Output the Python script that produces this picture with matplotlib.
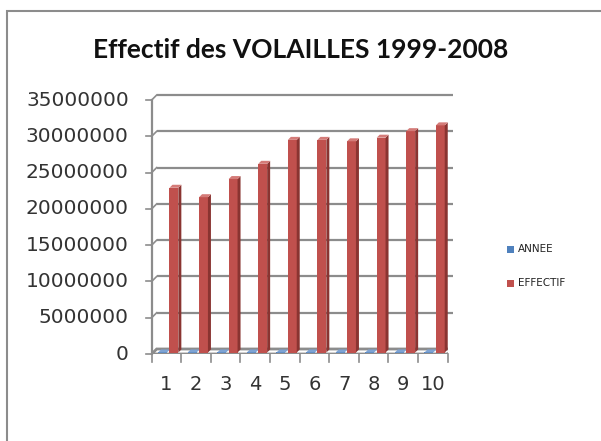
import matplotlib
matplotlib.use("Agg")
import matplotlib.pyplot as plt
from matplotlib.patches import Polygon, Rectangle

# données
annees = [1, 2, 3, 4, 5, 6, 7, 8, 9, 10]
annee = [1999, 2000, 2001, 2002, 2003, 2004, 2005, 2006, 2007, 2008]
effectif = [22700000, 21400000, 23900000, 26000000, 29300000,
            29300000, 29100000, 29600000, 30500000, 31300000]
yticks = [0, 5000000, 10000000, 15000000, 20000000, 25000000, 30000000, 35000000]

W, H = 601, 441
fig = plt.figure(figsize=(W / 100, H / 100), dpi=100)

# cadre gris du graphique
fig.patches.append(Rectangle((7 / W, -0.1), 1.2, 1 - 11 / H + 0.1,
                             transform=fig.transFigure, fill=False,
                             edgecolor="#8c8c8c", linewidth=1.5))

# axe (plan avant)
x0, x1, ytop, ybot = 151.7, 447.7, 100, 354
ax = fig.add_axes([x0 / W, 1 - ybot / H, (x1 - x0) / W, (ybot - ytop) / H])
ax.set_xlim(0.5, 10.5)
ax.set_ylim(0, 35000000)
ax.axis("off")

# pixels -> unités de données
px_x = 10 / (x1 - x0)
px_y = 35000000 / (ybot - ytop)
gris = "#8c8c8c"

# profondeur du mur du fond
dx, dy = 5 * px_x, 5 * px_y

# sol
ax.add_patch(Polygon([(0.5, 0), (10.5, 0), (10.5 + dx, dy), (0.5 + dx, dy)],
                     closed=True, facecolor="white", edgecolor=gris,
                     linewidth=2, zorder=1))

# quadrillage du mur du fond + diagonales sur le mur gauche
for v in yticks[1:]:
    ax.plot([0.5 + dx, 10.5 + dx], [v + dy, v + dy], color=gris, lw=1.6,
            zorder=0, clip_on=False, solid_capstyle="butt")
for v in yticks:
    ax.plot([0.5, 0.5 + dx], [v, v + dy], color=gris, lw=1.2, zorder=2,
            clip_on=False)
    ax.plot([0.5 - 6 * px_x, 0.5], [v, v], color=gris, lw=1.2, zorder=2,
            clip_on=False)
    ax.text(0.5 - 23 * px_x, v, f"{v}", ha="right", va="center",
            fontsize=14.5, color="#333333")

# axe vertical
ax.plot([0.5, 0.5], [0, 35000000], color=gris, lw=1.6, zorder=2,
        clip_on=False)

# graduations de l'axe des catégories
for k in range(11):
    ax.plot([0.5 + k, 0.5 + k], [0, -8 * px_y], color=gris, lw=1.2,
            clip_on=False, zorder=2)
for x in annees:
    ax.text(x, -31 * px_y, str(x), ha="center", va="center", fontsize=14,
            color="#333333")

# barres en pseudo-3D
def barre_3d(xc, h, w, face, cote, dessus, off):
    xl, xr = xc - w / 2, xc + w / 2
    b = off * px_y
    ddx, ddy = 3 * px_x, 3 * px_y
    ax.add_patch(Rectangle((xl, b), w, h, facecolor=face, edgecolor="none",
                           zorder=4))
    ax.add_patch(Polygon([(xr, b), (xr + ddx, b + ddy), (xr + ddx, b + h + ddy),
                          (xr, b + h)], closed=True, facecolor=cote,
                         edgecolor="none", zorder=4))
    ax.add_patch(Polygon([(xl, b + h), (xr, b + h), (xr + ddx, b + h + ddy),
                          (xl + ddx, b + h + ddy)], closed=True,
                         facecolor=dessus, edgecolor="none", zorder=4))

for x, a, e in zip(annees, annee, effectif):
    barre_3d(x - 0.135, a, 0.30, "#4F81BD", "#355c8c", "#7ea3d3", 1.5)
    barre_3d(x + 0.25, e, 0.30, "#C0504D", "#8a3431", "#d47b78", 1.5)

# titre
fig.text(0.5, 1 - 50 / H, "Effectif des VOLAILLES 1999-2008", ha="center",
         va="center", fontsize=19, fontfamily=["Lato", "DejaVu Sans"],
         fontweight="bold", color="#111111")

# légende
for yy, lab, col in [(249, "ANNEE", "#4F81BD"), (283, "EFFECTIF", "#C0504D")]:
    fig.patches.append(Rectangle((507 / W, 1 - (yy + 3.5) / H), 7 / W, 7 / H,
                                 transform=fig.transFigure, facecolor=col,
                                 edgecolor="none"))
    fig.text(518 / W, 1 - yy / H, lab, ha="left", va="center", fontsize=7.5,
             fontfamily=["Liberation Sans Narrow", "DejaVu Sans"],
             color="#222222")

fig.savefig("out.png", dpi=100)
